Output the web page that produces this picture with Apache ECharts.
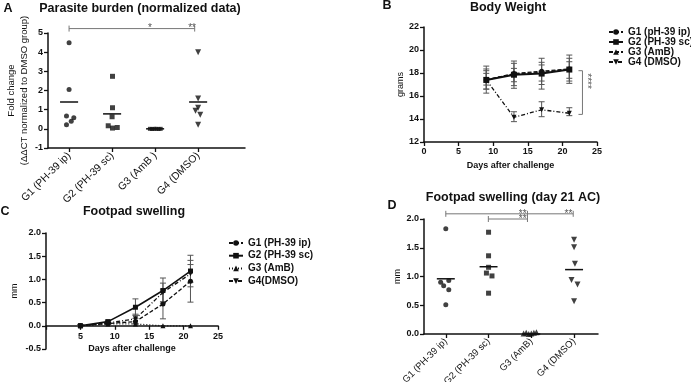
<!DOCTYPE html>
<html><head><meta charset="utf-8">
<script src="https://cdn.jsdelivr.net/npm/echarts@6/dist/echarts.min.js"></script>
<style>html,body{margin:0;padding:0;background:#fff}#c{width:691px;height:382px}</style>
</head><body><div id="c"></div>
<script>
// ---------------- Panel A: parasite burden ----------------
const catA = ['G1 (PH-39 ip)', 'G2 (PH-39 sc)', 'G3 (AmB )', 'G4 (DMSO)'];
const aG1 = [[1, 4.49], [1, 2.05], [0.94, 0.67], [1.11, 0.58], [1.05, 0.40], [0.94, 0.21]];
const aG2 = [[2.01, 2.74], [2.01, 1.10], [2.0, 0.63], [1.91, 0.16], [2.12, 0.07], [2.01, 0.04]];
const aG3 = [[2.88, 0.0], [2.93, -0.01], [2.98, 0.0], [3.03, 0.0], [3.08, -0.01], [3.13, 0.0]];
const aG4 = [[4.0, 4.0], [4.0, 1.58], [4.0, 1.10], [3.94, 0.95], [4.05, 0.74], [4.0, 0.21]];
const aMeans = [[1, 1.40], [2, 0.78], [3, 0.0], [4, 1.40]];
const aSig = { x1: 1, x2: 3.92, y: 5.23, ticks: [1, 3.92], stars: [[2.88, '*'], [3.86, '**']] };

// ---------------- Panel B: body weight ----------------
const daysB = [9, 13, 17, 21];
const bG1 = [17.4, 17.95, 18.15, 18.35];
const bG2 = [17.4, 17.85, 17.95, 18.3];
const bG3 = [17.4, 17.9, 18.05, 18.3];
const bG4 = [17.4, 14.15, 14.8, 14.5];
const bG1Lo = [16.25, 16.67, 16.6, 17.1], bG1Hi = [18.6, 19.04, 19.28, 19.56];
const bG2Lo = [16.6, 16.9, 17.0, 17.3], bG2Hi = [18.35, 18.84, 18.93, 19.28];
const bG3Lo = [16.95, 17.24, 17.3, 17.54], bG3Hi = [17.97, 18.4, 18.7, 18.98];
const bG4Lo = [16.6, 13.77, 14.2, 14.29], bG4Hi = [18.2, 14.63, 15.5, 14.98];
const bSig = { x: 22.9, y1: 18.2, y2: 14.4, text: '****', ty: 17.3 };
const legB = ['G1 (pH-39 ip)', 'G2 (PH-39 sc)', 'G3 (AmB)', 'G4 (DMSO)'];

// ---------------- Panel C: footpad swelling ----------------
const daysC = [5, 9, 13, 17, 21];
const cG1 = [0.0, 0.05, 0.09, 0.47, 0.96];
const cG2 = [0.0, 0.09, 0.40, 0.76, 1.18];
const cG3 = [0.0, 0.04, 0.04, 0.0, 0.0];
const cG4 = [0.0, 0.06, 0.15, 0.72, 1.12];
const cG1Lo = [0.0, 0.02, 0.02, 0.15, 0.51], cG1Hi = [0.02, 0.08, 0.16, 0.79, 1.41];
const cG2Lo = [-0.02, 0.06, 0.22, 0.49, 0.84], cG2Hi = [0.02, 0.12, 0.58, 1.03, 1.52];
const cG4Lo = [0.0, 0.03, 0.05, 0.52, 0.94], cG4Hi = [0.02, 0.09, 0.25, 0.92, 1.32];
const legC = ['G1 (PH-39 ip) ', 'G2 (PH-39 sc) ', 'G3 (AmB) ', 'G4(DMSO)'];

// ---------------- Panel D: footpad swelling day 21 ----------------
const catD = ['G1 (PH-39 ip)', 'G2 (PH-39 sc)', 'G3 (AmB)', 'G4 (DMSO)'];
const dG1 = [[1, 1.83], [1.07, 0.93], [0.88, 0.90], [0.95, 0.84], [1.07, 0.77], [1, 0.51]];
const dG2 = [[2, 1.77], [2, 1.36], [2, 1.16], [1.95, 1.06], [2.08, 1.01], [2, 0.71]];
const dG3 = [[2.82, 0.01], [2.88, 0.02], [2.94, 0.0], [3.0, 0.01], [3.06, 0.02], [3.12, 0.03]];
const dG4 = [[4, 1.64], [4, 1.51], [4.02, 1.22], [3.94, 0.94], [4.08, 0.86], [4, 0.57]];
const dMeans = [[1, 0.96], [2, 1.17], [3, 0.0], [4, 1.12]];
const dSig1 = { x1: 1, x2: 3.98, y: 2.09, ticks: [1, 2.91, 3.98], stars: [[2.8, '**'], [3.87, '**']] };
const dSig2 = { x1: 1.995, x2: 2.91, y: 2.0, ticks: [1.995, 2.91], stars: [[2.8, '**']] };

// ---------------- helpers ----------------
const FONT = '"Liberation Sans", Arial, sans-serif';
const K = '#111';
const GREY = '#777';
function merge(a, b) {
  const o = Array.isArray(a) ? a.slice() : Object.assign({}, a);
  for (const k in b) {
    if (b[k] && typeof b[k] === 'object' && !Array.isArray(b[k]) && a[k] && typeof a[k] === 'object') o[k] = merge(a[k], b[k]);
    else o[k] = b[k];
  }
  return o;
}
const baseAxis = {
  type: 'value', splitLine: { show: false },
  axisLine: { show: true, onZero: false, lineStyle: { color: K, width: 1.5 } },
  axisTick: { show: true, length: 4, lineStyle: { color: K, width: 1.3 } },
  axisLabel: { color: K, fontFamily: FONT, fontSize: 9, fontWeight: 'bold', margin: 5 },
  nameTextStyle: { color: K, fontFamily: FONT, fontSize: 9 }
};
function ax(o) { return merge(baseAxis, o); }

function errSeries(xi, yi, days, lo, hi, color, cap) {
  return {
    type: 'custom', xAxisIndex: xi, yAxisIndex: yi, z: 1, silent: true,
    data: days.map((d, i) => [d, lo[i], hi[i]]),
    renderItem: function (params, api) {
      const p1 = api.coord([api.value(0), api.value(1)]);
      const p2 = api.coord([api.value(0), api.value(2)]);
      const st = { stroke: color, lineWidth: 1 };
      return { type: 'group', children: [
        { type: 'line', shape: { x1: p1[0], y1: p1[1], x2: p2[0], y2: p2[1] }, style: st },
        { type: 'line', shape: { x1: p1[0] - cap, y1: p1[1], x2: p1[0] + cap, y2: p1[1] }, style: st },
        { type: 'line', shape: { x1: p2[0] - cap, y1: p2[1], x2: p2[0] + cap, y2: p2[1] }, style: st }
      ] };
    }
  };
}
function meanSeries(xi, yi, means, half) {
  return {
    type: 'custom', xAxisIndex: xi, yAxisIndex: yi, z: 3, silent: true, data: means,
    renderItem: function (params, api) {
      const a = api.coord([api.value(0) - half, api.value(1)]);
      const b = api.coord([api.value(0) + half, api.value(1)]);
      return { type: 'line', shape: { x1: a[0], y1: a[1], x2: b[0], y2: b[1] }, style: { stroke: K, lineWidth: 1.5 } };
    }
  };
}
function sigSeries(xi, yi, sig) {
  return {
    type: 'custom', xAxisIndex: xi, yAxisIndex: yi, z: 2, silent: true, data: [[sig.x1, sig.y]],
    renderItem: function (params, api) {
      const a = api.coord([sig.x1, sig.y]);
      const b = api.coord([sig.x2, sig.y]);
      const st = { stroke: GREY, lineWidth: 1 };
      const ch = [{ type: 'line', shape: { x1: a[0], y1: a[1], x2: b[0], y2: b[1] }, style: st }];
      sig.ticks.forEach(t => {
        const p = api.coord([t, sig.y]);
        ch.push({ type: 'line', shape: { x1: p[0], y1: p[1] - 3, x2: p[0], y2: p[1] + 3 }, style: st });
      });
      sig.stars.forEach(s => {
        const p = api.coord([s[0], sig.y]);
        ch.push({ type: 'text', x: p[0], y: p[1] + 5, style: { text: s[1], fill: '#555', font: '10px ' + FONT, textAlign: 'center', textVerticalAlign: 'bottom' } });
      });
      return { type: 'group', children: ch };
    }
  };
}
function scatter(xi, yi, name, data, symbol, size, rot) {
  return { type: 'scatter', name: name, xAxisIndex: xi, yAxisIndex: yi, data: data, symbol: symbol, symbolSize: size, symbolRotate: rot || 0, itemStyle: { color: K }, z: 4, silent: true };
}
function line(xi, yi, name, days, vals, symbol, size, dash, w, rot) {
  return {
    type: 'line', name: name, xAxisIndex: xi, yAxisIndex: yi, data: days.map((d, i) => [d, vals[i]]),
    symbol: symbol, symbolSize: size, symbolRotate: rot || 0, showAllSymbol: true,
    lineStyle: { color: K, width: w, type: dash }, itemStyle: { color: K }, z: 3, silent: true
  };
}

const chart = echarts.init(document.getElementById('c'), null, { renderer: 'canvas' });
const T = (x, y, text, size, align) => ({ type: 'text', x: x, y: y, style: { text: text, fill: K, font: 'bold ' + size + 'px ' + FONT, textAlign: align || 'center', textVerticalAlign: 'middle' } });

const catAxisLabel = (cats, fs) => ({
  customValues: [1, 2, 3, 4], rotate: 45, fontWeight: 'normal', fontSize: fs, margin: 6,
  formatter: v => cats[Math.round(v) - 1] || ''
});
const G = (l, t, w, h) => ({ left: l, top: t, width: w, height: h, containLabel: false, outerBoundsMode: 'none' });

chart.setOption({
  animation: false,
  backgroundColor: '#fff',
  textStyle: { fontFamily: FONT },
  grid: [G(48, 33, 197, 115), G(424, 27, 173, 115), G(46, 233, 172, 116), G(424, 219, 174, 115)],
  xAxis: [
    ax({ gridIndex: 0, min: 0.51, max: 5.09, axisTick: { customValues: [1, 2, 3, 4] }, axisLabel: catAxisLabel(catA, 10.5) }),
    ax({ gridIndex: 1, min: 0, max: 25, interval: 5, name: 'Days after challenge', nameLocation: 'middle', nameGap: 19,
         nameTextStyle: { fontWeight: 'bold', fontSize: 9 } }),
    // C: x axis line sits on y = 0 (moved up from the grid bottom by offset)
    ax({ gridIndex: 2, min: 0, max: 25, interval: 5, position: 'bottom', offset: -23.2,
         name: 'Days after challenge', nameLocation: 'middle', nameGap: 18, nameMoveOverlap: false,
         axisLine: { onZero: false }, axisLabel: { margin: 6, formatter: v => v === 0 ? '' : String(v) },
         nameTextStyle: { fontWeight: 'bold', fontSize: 9 } }),
    ax({ gridIndex: 3, min: 0.49, max: 4.56, axisTick: { customValues: [1, 2, 3, 4] }, axisLabel: catAxisLabel(catD, 9.5) })
  ],
  yAxis: [
    ax({ gridIndex: 0, min: -1, max: 5, interval: 1, name: 'Fold change\n(ΔΔCT normalized to DMSO group)', nameLocation: 'middle',
         nameRotate: 90, nameGap: 14, nameTextStyle: { fontSize: 9.5, lineHeight: 13 } }),
    ax({ gridIndex: 1, min: 12, max: 22, interval: 2, name: 'grams', nameLocation: 'middle', nameRotate: 90, nameGap: 18 }),
    ax({ gridIndex: 2, min: -0.5, max: 2, interval: 0.5, name: 'mm', nameLocation: 'middle', nameRotate: 90, nameGap: 27,
         axisLabel: { formatter: v => v.toFixed(1) } }),
    ax({ gridIndex: 3, min: 0, max: 2, interval: 0.5, name: 'mm', nameLocation: 'middle', nameRotate: 90, nameGap: 22,
         axisLabel: { formatter: v => v.toFixed(1) } })
  ],
  legend: [
    { data: legB, orient: 'vertical', left: 603, top: 22, itemWidth: 14, itemHeight: 7, itemGap: 0, selectedMode: false,
      textStyle: { color: K, fontFamily: FONT, fontSize: 10, fontWeight: 'bold', lineHeight: 10 } },
    { data: legC, orient: 'vertical', left: 223, top: 233, itemWidth: 14, itemHeight: 7, itemGap: 2.7, selectedMode: false,
      textStyle: { color: K, fontFamily: FONT, fontSize: 10, fontWeight: 'bold', lineHeight: 10 } }
  ],
  graphic: [
    T(8, 9, 'A', 12.5), T(140, 9, 'Parasite burden (normalized data)', 12.5),
    T(387, 6, 'B', 12.5), T(508, 8, 'Body Weight', 12.5),
    T(5, 212, 'C', 12.5), T(134, 212, 'Footpad swelling', 12.5),
    T(392, 206, 'D', 12.5), T(513, 198, 'Footpad swelling (day 21 AC)', 12.5)
  ],
  series: [
    // A
    scatter(0, 0, 'aG1', aG1, 'circle', 5),
    scatter(0, 0, 'aG2', aG2, 'rect', 5),
    scatter(0, 0, 'aG3', aG3, 'rect', 4),
    scatter(0, 0, 'aG4', aG4, 'triangle', 6, 180),
    meanSeries(0, 0, aMeans, 0.21),
    sigSeries(0, 0, aSig),
    // B
    errSeries(1, 1, daysB, bG1Lo, bG1Hi, '#555', 3),
    errSeries(1, 1, daysB, bG2Lo, bG2Hi, '#555', 3),
    errSeries(1, 1, daysB, bG3Lo, bG3Hi, '#555', 3),
    errSeries(1, 1, daysB, bG4Lo, bG4Hi, '#555', 3),
    line(1, 1, legB[0], daysB, bG1, 'circle', 5, [4, 2], 1.3),
    line(1, 1, legB[1], daysB, bG2, 'rect', 6, 'solid', 2),
    line(1, 1, legB[2], daysB, bG3, 'triangle', 5, [4, 2], 1.3),
    line(1, 1, legB[3], daysB, bG4, 'triangle', 5, [4, 2, 1, 2], 1.3, 180),
    {
      type: 'custom', xAxisIndex: 1, yAxisIndex: 1, silent: true, z: 2, data: [[bSig.x, bSig.y1]],
      renderItem: function (params, api) {
        const a = api.coord([bSig.x, bSig.y1]), b = api.coord([bSig.x, bSig.y2]), t = api.coord([bSig.x, bSig.ty]);
        const st = { stroke: GREY, lineWidth: 1 };
        return { type: 'group', children: [
          { type: 'line', shape: { x1: a[0], y1: a[1], x2: b[0], y2: b[1] }, style: st },
          { type: 'line', shape: { x1: a[0] - 4, y1: a[1], x2: a[0], y2: a[1] }, style: st },
          { type: 'line', shape: { x1: b[0] - 4, y1: b[1], x2: b[0], y2: b[1] }, style: st },
          { type: 'text', x: t[0] + 4, y: t[1], rotation: -Math.PI / 2,
            style: { text: bSig.text, fill: '#555', font: '10px ' + FONT, textAlign: 'center', textVerticalAlign: 'middle' } }
        ] };
      }
    },
    // C
    errSeries(2, 2, daysC, cG1Lo, cG1Hi, '#555', 3),
    errSeries(2, 2, daysC, cG2Lo, cG2Hi, '#555', 3),
    errSeries(2, 2, daysC, cG4Lo, cG4Hi, '#555', 3),
    line(2, 2, legC[0], daysC, cG1, 'circle', 5, [4, 2], 1.3),
    line(2, 2, legC[1], daysC, cG2, 'rect', 5, 'solid', 1.6),
    line(2, 2, legC[2], daysC, cG3, 'triangle', 5, [1, 2], 1.3),
    line(2, 2, legC[3], daysC, cG4, 'triangle', 5, [4, 2, 1, 2], 1.3, 180),
    // D
    scatter(3, 3, 'dG1', dG1, 'circle', 5),
    scatter(3, 3, 'dG2', dG2, 'rect', 5),
    scatter(3, 3, 'dG3', dG3, 'triangle', 6),
    scatter(3, 3, 'dG4', dG4, 'triangle', 6, 180),
    meanSeries(3, 3, dMeans, 0.21),
    sigSeries(3, 3, dSig1),
    sigSeries(3, 3, dSig2)
  ]
});
</script></body></html>
